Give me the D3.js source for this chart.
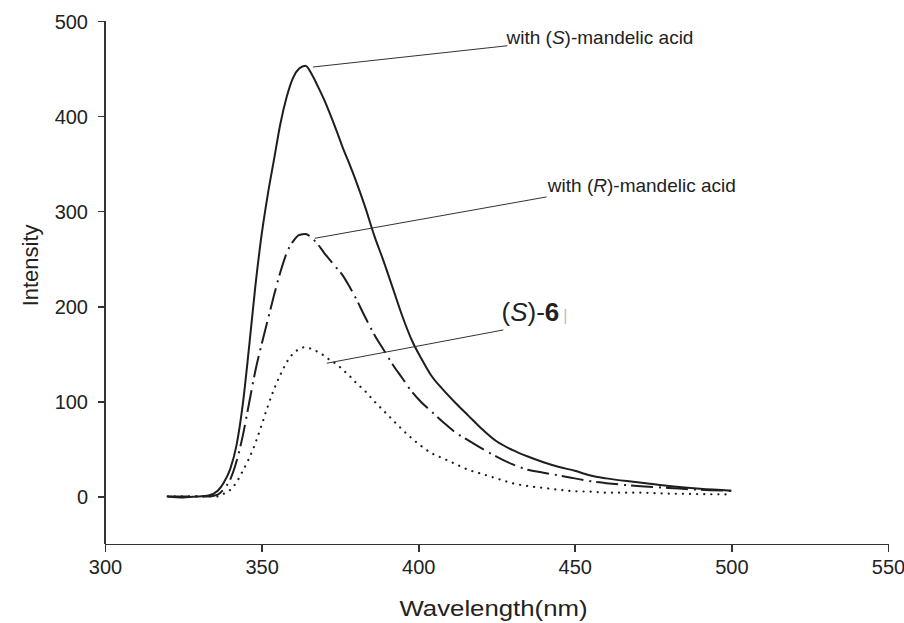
<html lang="en">
<head>
<meta charset="UTF-8">
<title>Fluorescence spectra</title>
<script src="https://d3js.org/d3.v7.min.js"></script>
<style>
  body {
    margin: 0;
    background-color: #ffffff;
    font-family: "Liberation Sans", Arial, sans-serif;
  }
  .axis path,
  .axis line {
    stroke: #333;
    stroke-width: 1.6;
    shape-rendering: crispEdges;
  }
  .axis text {
    font-family: "Liberation Sans", Arial, sans-serif;
    font-size: 20px;
    fill: #222;
  }
  .axis-label {
    font-size: 22px;
    fill: #222;
  }
  .spectrum {
    fill: none;
    stroke: #1e1e1e;
  }
  .leader {
    stroke: #333;
    stroke-width: 1;
  }
  .note {
    font-size: 19px;
    fill: #222;
  }
</style>
</head>
<body>
<div id="chart"></div>

<script>
// Wavelengths (nm) sampled for all three spectra
const wavelength = [320, 325, 330, 333, 336, 338, 340, 342, 344, 346, 348, 350, 352, 354, 356, 358, 360, 362, 364,
  366, 368, 370, 372, 374, 376, 378, 380, 383, 386, 389, 392, 395, 398, 401, 404, 408, 412, 416, 420,
  425, 430, 435, 440, 445, 450, 455, 460, 470, 480, 490, 500];

// with (S)-mandelic acid (solid)
const withS = [0, -1, 0, 1, 6, 15, 29, 54, 97, 157, 221, 275, 318, 355, 392, 420, 440, 450, 453,
  444, 431, 417, 401, 384, 366, 350, 333, 305, 274, 247, 218, 189, 164, 145, 128, 112, 98, 85, 72,
  58, 49, 42, 36, 31, 27, 22, 19, 15, 11, 8, 6];

// with (R)-mandelic acid (dash-dot)
const withR = [0, 0, 0, 0, 2, 8, 18, 37, 64, 98, 132, 160, 186, 212, 236, 256, 268, 275, 276,
  272, 265, 256, 248, 240, 232, 221, 209, 189, 170, 154, 138, 124, 110, 99, 90, 78, 67, 59, 51,
  42, 34, 28, 25, 22, 19, 16, 14, 11, 9, 7, 6];

// (S)-6 alone (dotted)
const host = [0, 0, 0, 0, 0, 3, 7, 15, 27, 40, 56, 75, 95, 113, 128, 141, 150, 155, 157,
  155, 152, 148, 143, 139, 133, 127, 120, 111, 100, 90, 80, 70, 61, 53, 46, 40, 34, 28, 24,
  19, 14, 11, 9, 7, 5.5, 5, 4, 4, 3, 2.5, 2];

const xTicks = [300, 350, 400, 450, 500, 550];
const yTicks = [0, 100, 200, 300, 400, 500];

const svgWidth = 904;
const svgHeight = 623;
const margin = { top: 21, right: 16, bottom: 79, left: 105 };

const svg = d3.select("#chart")
  .append("svg")
  .attr("width", svgWidth)
  .attr("height", svgHeight);

const x = d3.scaleLinear()
  .domain([300, 550])
  .range([margin.left, svgWidth - margin.right]);

const y = d3.scaleLinear()
  .domain([-50, 500])
  .range([svgHeight - margin.bottom, margin.top]);

// axes
svg.append("g")
  .attr("class", "axis")
  .attr("transform", `translate(0, ${y(-50)})`)
  .call(d3.axisBottom(x).tickValues(xTicks).tickSize(8).tickSizeOuter(0).tickPadding(8));

svg.append("g")
  .attr("class", "axis")
  .attr("transform", `translate(${x(300)}, 0)`)
  .call(d3.axisLeft(y).tickValues(yTicks).tickSize(7).tickSizeOuter(0).tickPadding(10))
  .call(g => g.selectAll(".tick text").attr("dy", "0.35em"));

// extend y axis line down to the x axis
svg.append("line")
  .attr("x1", x(300)).attr("x2", x(300))
  .attr("y1", y(500)).attr("y2", y(-50))
  .attr("stroke", "#333").attr("stroke-width", 1.6)
  .style("shape-rendering", "crispEdges");

// axis labels (the original lettering is a bit wide)
svg.append("text")
  .attr("class", "axis-label")
  .attr("x", (x(300) + x(550)) / 2 - 3)
  .attr("y", svgHeight - 7)
  .attr("textLength", 188)
  .attr("lengthAdjust", "spacingAndGlyphs")
  .style("text-anchor", "middle")
  .text("Wavelength(nm)");

svg.append("text")
  .attr("class", "axis-label")
  .attr("transform", `translate(38, ${y(243)}) rotate(-90)`)
  .style("text-anchor", "middle")
  .text("Intensity");

// spectra
const series = [
  { values: withS, width: 2, dash: null, cap: "butt" },
  { values: withR, width: 2, dash: "22,6,2,5", cap: "butt" },
  { values: host, width: 2.2, dash: "0.1,7", cap: "round" }
];

const line = d3.line()
  .x((d, i) => x(wavelength[i]))
  .y(d => y(d))
  .curve(d3.curveMonotoneX);

svg.selectAll(".spectrum")
  .data(series)
  .enter().append("path")
  .attr("class", "spectrum")
  .attr("d", d => line(d.values))
  .attr("stroke-width", d => d.width)
  .attr("stroke-dasharray", d => d.dash)
  .attr("stroke-linecap", d => d.cap);

// annotations: leader from curve point to label anchor (data units)
const notes = [
  { from: [366.4, 451.6], to: [428.5, 474.0] },
  { from: [367.0, 271.5], to: [441.0, 315.0] },
  { from: [370.8, 140.1], to: [427.2, 175.1] }
];

svg.selectAll(".leader")
  .data(notes)
  .enter().append("line")
  .attr("class", "leader")
  .attr("x1", d => x(d.from[0]))
  .attr("y1", d => y(d.from[1]))
  .attr("x2", d => x(d.to[0]))
  .attr("y2", d => y(d.to[1]));

function mandelic(t, letter, px, py) {
  t.attr("x", x(px)).attr("y", y(py));
  t.append("tspan").text("with (");
  t.append("tspan").style("font-style", "italic").text(letter);
  t.append("tspan").text(")-mandelic acid");
}

svg.append("text").attr("class", "note").call(mandelic, "S", 428.2, 476);
svg.append("text").attr("class", "note").call(mandelic, "R", 441.4, 320);

const s6 = svg.append("text")
  .attr("class", "note")
  .style("font-size", "26px")
  .attr("x", x(426.6))
  .attr("y", y(184));
s6.append("tspan").text("(");
s6.append("tspan").style("font-style", "italic").text("S");
s6.append("tspan").text(")-");
s6.append("tspan").style("font-weight", "bold").text("6");
s6.append("tspan").style("fill", "#bbb").style("font-size", "16px").attr("dx", 4).text("|");
</script>
</body>
</html>
